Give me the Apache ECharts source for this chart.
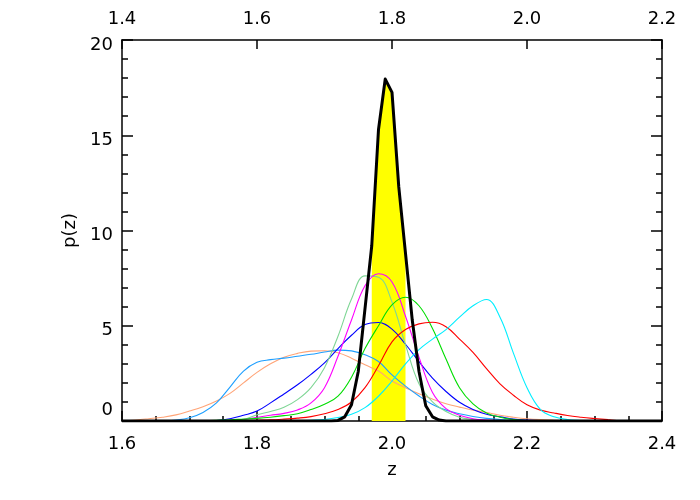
<!DOCTYPE html>
<html>
<head>
<meta charset="utf-8">
<script src="https://cdn.jsdelivr.net/npm/echarts@6/dist/echarts.min.js"></script>
<style>html,body{margin:0;padding:0;background:#fff}#c{width:700px;height:500px}</style>
</head>
<body>
<div id="c"></div>
<script>
// z grid for the coloured p(z) curves (step 0.02 from 1.60 to 2.40)
const zGrid = [1.60,1.62,1.64,1.66,1.68,1.70,1.72,1.74,1.76,1.78,1.80,1.82,1.84,1.86,1.88,1.90,1.92,1.94,1.96,1.98,
               2.00,2.02,2.04,2.06,2.08,2.10,2.12,2.14,2.16,2.18,2.20,2.22,2.24,2.26,2.28,2.30,2.32,2.34,2.36,2.38,2.40];

const salmonP  = [0.01,0.05,0.12,0.20,0.32,0.52,0.75,1.05,1.45,2.00,2.55,3.00,3.35,3.55,3.67,3.69,3.58,3.30,2.95,2.62,
                  2.10,1.75,1.43,1.15,0.91,0.73,0.57,0.45,0.30,0.20,0.12,0.07,0.04,0.02,0,0,0,0,0,0,0];
const skyP     = [0,0,0,0.01,0.05,0.17,0.45,0.95,1.78,2.62,3.08,3.22,3.30,3.40,3.50,3.62,3.72,3.68,3.48,3.12,
                  2.42,1.83,1.31,0.87,0.57,0.38,0.24,0.14,0.08,0.04,0.02,0,0,0,0,0,0,0,0,0,0];
const blueP    = [0,0,0,0,0,0,0.01,0.03,0.12,0.30,0.52,0.95,1.42,1.90,2.45,3.05,3.80,4.50,5.06,5.17,
                  4.82,4.03,3.12,2.25,1.55,0.98,0.60,0.35,0.22,0.10,0.05,0.02,0,0,0,0,0,0,0,0,0];
const lgreenP  = [0,0,0,0,0,0,0,0,0.01,0.08,0.33,0.50,0.72,1.12,1.75,2.80,4.45,6.40,7.62,7.55,
                  6.25,4.00,1.95,1.00,0.50,0.20,0.08,0.03,0,0,0,0,0,0,0,0,0,0,0,0,0];
const magentaP = [0,0,0,0,0,0,0,0,0.02,0.08,0.20,0.30,0.40,0.58,0.95,1.75,3.40,5.30,7.10,7.73,
                  7.30,5.50,3.35,1.50,0.65,0.30,0.12,0.05,0.02,0,0,0,0,0,0,0,0,0,0,0,0];
const greenP   = [0,0,0,0,0,0.01,0.02,0.04,0.06,0.10,0.14,0.20,0.28,0.38,0.60,0.88,1.30,2.30,3.80,5.00,
                  6.10,6.50,6.05,4.85,3.25,1.75,0.90,0.42,0.20,0.08,0.03,0,0,0,0,0,0,0,0,0,0];
const redP     = [0,0,0,0,0,0,0,0,0.01,0.02,0.04,0.06,0.10,0.15,0.23,0.38,0.60,1.00,1.75,2.90,
                  4.15,4.80,5.10,5.18,4.95,4.30,3.60,2.75,1.95,1.35,0.85,0.57,0.42,0.29,0.20,0.13,0.07,0.02,0,0,0];
const cyanP    = [0,0,0,0,0,0,0,0,0,0,0,0,0.01,0.02,0.04,0.08,0.18,0.35,0.70,1.30,
                  2.10,3.00,3.75,4.30,4.80,5.45,6.05,6.38,5.45,3.55,1.75,0.60,0.22,0.08,0.03,0,0,0,0,0,0];

// combined (black) p(z), step 0.01
const zBlack = [1.60,1.90,1.91,1.92,1.93,1.94,1.95,1.96,1.97,1.98,1.99,2.00,2.01,2.02,2.03,2.04,2.05,2.06,2.07,2.08,2.40];
const blackP = [0,0,0,0.03,0.22,0.85,2.60,5.90,9.20,15.30,17.95,17.25,12.30,8.80,5.30,2.60,0.80,0.22,0.05,0,0];

// shaded interval
const bandLo = 1.97, bandHi = 2.02;

// axis ticks
const xTicksBottom = [1.6, 2.4, 0.2];
const xTicksTop = [1.4, 2.2, 0.2];
const yTicks = [0, 20, 5];

const curves = [
  {p: salmonP,  color: '#ffa477'},
  {p: skyP,     color: '#1e9fff'},
  {p: blueP,    color: '#0000ff'},
  {p: lgreenP,  color: '#7fd695'},
  {p: magentaP, color: '#ff00ff'},
  {p: greenP,   color: '#00dd00'},
  {p: redP,     color: '#ff0000'},
  {p: cyanP,    color: '#00eeff'}
];

const FONT = 'DejaVu Sans';
const pair = (zs, ps) => zs.map((z, i) => [z, ps[i]]);
const bandData = pair(zBlack, blackP).filter(d => d[0] >= bandLo - 1e-9 && d[0] <= bandHi + 1e-9);

const series = [];
series.push({
  type: 'line', data: bandData, symbol: 'none', silent: true, z: 1,
  lineStyle: {width: 0}, areaStyle: {color: '#ffff00', opacity: 1}
});
curves.forEach((c, i) => series.push({
  type: 'line', data: pair(zGrid, c.p), symbol: 'none', smooth: 0.4, z: 2 + i,
  lineStyle: {color: c.color, width: 1.1}
}));
series.push({
  type: 'line', data: pair(zBlack, blackP), symbol: 'none', z: 20,
  lineStyle: {color: '#000', width: 3, join: 'round'}
});

const axisBase = {
  axisLine: {show: true, onZero: false, lineStyle: {color: '#000', width: 1.5}},
  splitLine: {show: false},
  axisLabel: {color: '#000', fontFamily: FONT, fontSize: 18},
  nameTextStyle: {color: '#000', fontFamily: FONT, fontSize: 18}
};
const yLabelRich = {
  n: {fontFamily: FONT, fontSize: 18, color: '#000', padding: [10, 0, 0, 0]},
  zero: {fontFamily: FONT, fontSize: 18, color: '#000', padding: [0, 0, 22, 0]}
};

const chart = echarts.init(document.getElementById('c'), null, {renderer: 'canvas'});
chart.setOption({
  animation: false,
  backgroundColor: '#fff',
  grid: {left: 122, right: 38, top: 40, bottom: 79},
  xAxis: [
    Object.assign({}, axisBase, {
      type: 'value', position: 'bottom', min: xTicksBottom[0], max: xTicksBottom[1], interval: xTicksBottom[2],
      name: 'z', nameLocation: 'middle', nameGap: 40,
      axisTick: {inside: true, length: 10, lineStyle: {color: '#000', width: 1.5}},
      minorTick: {show: true, splitNumber: 4, length: 5, lineStyle: {color: '#000', width: 1.5}},
      axisLabel: Object.assign({}, axisBase.axisLabel, {margin: 14, formatter: v => v.toFixed(1)})
    }),
    Object.assign({}, axisBase, {
      type: 'value', position: 'top', min: xTicksTop[0], max: xTicksTop[1], interval: xTicksTop[2],
      axisTick: {inside: true, length: 9, lineStyle: {color: '#000', width: 1.5}},
      axisLabel: Object.assign({}, axisBase.axisLabel, {margin: 12, formatter: v => v.toFixed(1)})
    })
  ],
  yAxis: [
    Object.assign({}, axisBase, {
      type: 'value', position: 'left', min: yTicks[0], max: yTicks[1], interval: yTicks[2],
      name: 'p(z)', nameLocation: 'middle', nameGap: 43,
      axisTick: {inside: true, length: 11, lineStyle: {color: '#000', width: 1.5}},
      minorTick: {show: true, splitNumber: 5, length: 6, lineStyle: {color: '#000', width: 1.5}},
      axisLabel: Object.assign({}, axisBase.axisLabel, {
        margin: 9, rich: yLabelRich,
        formatter: v => v === 0 ? '{zero|0}' : '{n|' + v + '}'
      })
    }),
    Object.assign({}, axisBase, {
      type: 'value', position: 'right', min: yTicks[0], max: yTicks[1], interval: yTicks[2],
      axisTick: {inside: true, length: 11, lineStyle: {color: '#000', width: 1.5}},
      minorTick: {show: true, splitNumber: 5, length: 6, lineStyle: {color: '#000', width: 1.5}},
      axisLabel: {show: false}
    })
  ],
  series: series
});
</script>
</body>
</html>
